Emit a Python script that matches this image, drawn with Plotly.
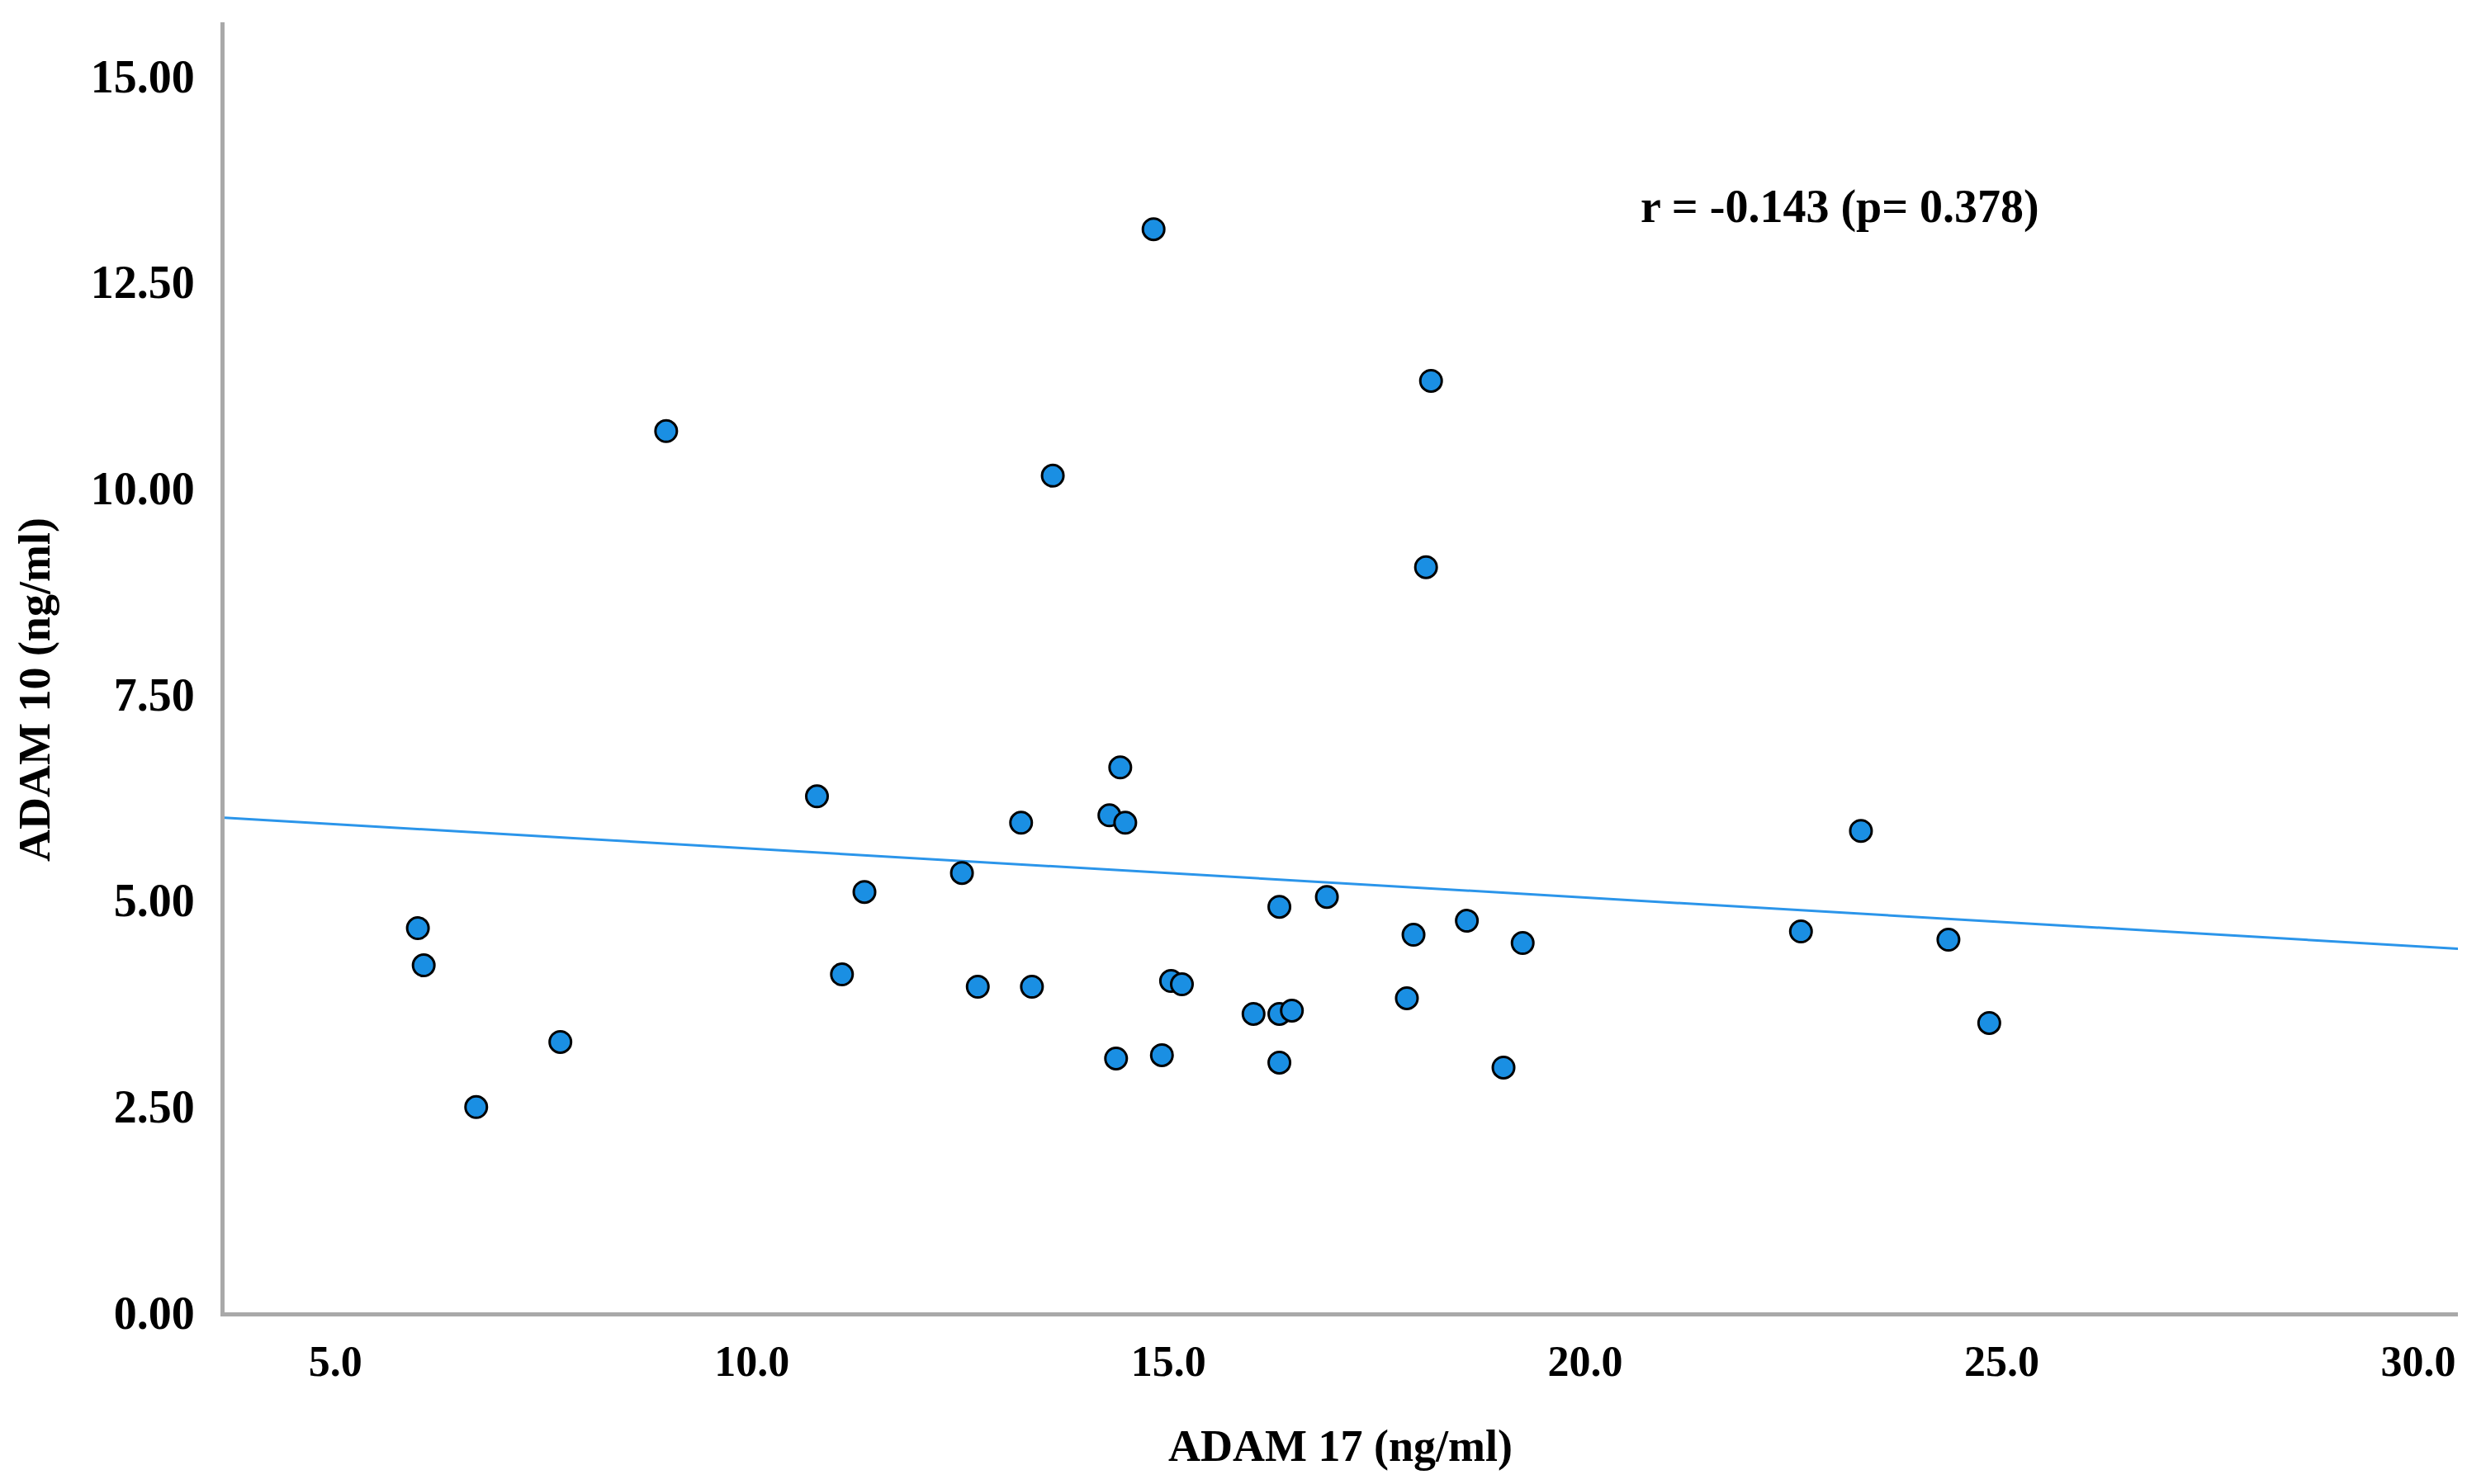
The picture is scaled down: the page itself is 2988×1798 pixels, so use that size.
import plotly.graph_objects as go

# Data (ADAM 17 vs ADAM 10, ng/ml)
adam17 = [5.99, 6.06, 6.69, 7.70, 8.97, 10.78, 11.08, 11.35, 12.52, 12.71,
          13.23, 13.36, 13.61, 14.29, 14.42, 14.48, 14.37, 14.82, 14.92, 15.03,
          15.16, 16.02, 16.33, 16.33, 16.48, 16.33, 16.90, 17.86, 17.94, 18.09,
          18.15, 18.58, 19.02, 19.25, 22.59, 23.31, 24.36, 24.85]
adam10 = [4.66, 4.21, 2.49, 3.28, 10.69, 6.26, 4.10, 5.10, 5.33, 3.95,
          5.94, 3.95, 10.15, 6.03, 6.61, 5.94, 3.08, 13.14, 3.12, 4.02,
          3.98, 3.62, 4.92, 3.62, 3.66, 3.03, 5.04, 3.81, 4.58, 9.04,
          11.30, 4.75, 2.97, 4.48, 4.62, 5.84, 4.52, 3.51]

# Fit line
fit_intercept = 6.218
fit_slope = -0.0593

x_ticks = [5.0, 10.0, 15.0, 20.0, 25.0, 30.0]
x_tick_labels = ["5.0", "10.0", "15.0", "20.0", "25.0", "30.0"]
y_ticks = [0.0, 2.5, 5.0, 7.5, 10.0, 12.5, 15.0]
y_tick_labels = ["0.00", "2.50", "5.00", "7.50", "10.00", "12.50", "15.00"]
x_range = [3.67, 30.475]
y_range = [0, 15.65]
stat_text = "r = -0.143 (p= 0.378)"

fit_x = list(x_range)
fit_y = [fit_intercept + fit_slope * v for v in fit_x]

FONT = "Liberation Serif"

fig = go.Figure()
fig.add_trace(go.Scatter(
    x=fit_x, y=fit_y, mode="lines",
    line=dict(color="#2b95ea", width=3), hoverinfo="skip", showlegend=False))
fig.add_trace(go.Scatter(
    x=adam17, y=adam10, mode="markers",
    marker=dict(size=26, color="#1a8fe3", line=dict(color="#000000", width=3)),
    showlegend=False))

fig.add_annotation(x=23.06, y=13.41, xref="x", yref="y", text="<b>" + stat_text + "</b>",
                   showarrow=False, font=dict(family=FONT, size=56, color="black"))
fig.add_annotation(x=0.4998, y=-0.1036, xref="paper", yref="paper",
                   xanchor="center", yanchor="middle",
                   text="<b>ADAM 17 (ng/ml)</b>", showarrow=False,
                   font=dict(family=FONT, size=54, color="black"))
fig.add_annotation(x=-0.085, y=0.4824, xref="paper", yref="paper",
                   xanchor="center", yanchor="middle",
                   text="<b>ADAM 10 (ng/ml)</b>", textangle=-90, showarrow=False,
                   font=dict(family=FONT, size=54, color="black"))

fig.update_xaxes(range=x_range, tickvals=x_ticks, ticktext=["<b>%s</b>" % t for t in x_tick_labels],
                 showgrid=False, zeroline=False, showline=True, linecolor="#a9a9a9", linewidth=5,
                 ticks="", ticklabelstandoff=10,
                 tickfont=dict(family=FONT, size=52, color="black"))
fig.update_yaxes(range=y_range, tickvals=y_ticks, ticktext=["<b>%s</b>" % t for t in y_tick_labels],
                 showgrid=False, zeroline=False, showline=True, linecolor="#a9a9a9", linewidth=5,
                 ticks="", ticklabelstandoff=20,
                 tickfont=dict(family=FONT, size=56, color="black"))

fig.update_layout(width=2972, height=1782, autosize=False,
                  margin=dict(l=264, r=3, t=19, b=200),
                  plot_bgcolor="white", paper_bgcolor="white")

fig.write_html("out.html")
